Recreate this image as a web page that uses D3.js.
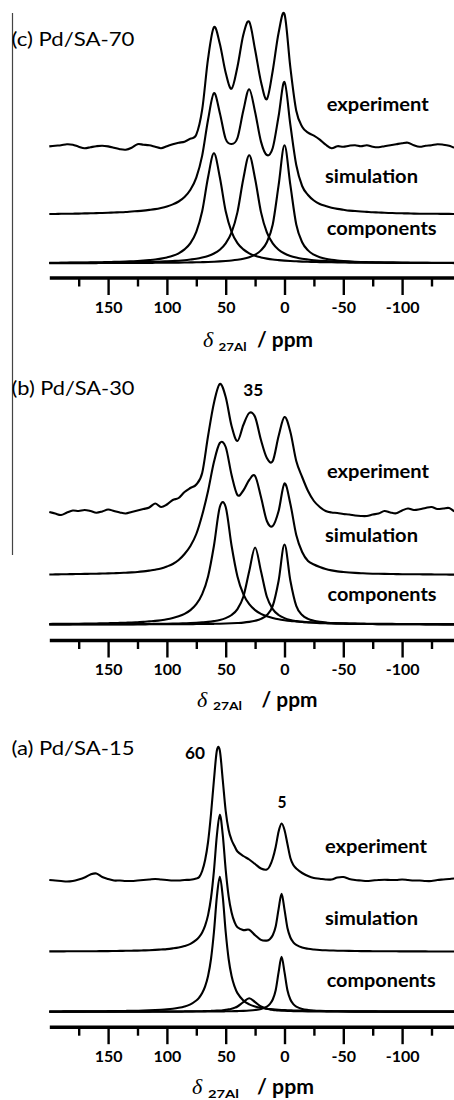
<!DOCTYPE html>
<html><head><meta charset="utf-8">
<script src="https://cdn.jsdelivr.net/npm/d3@7"></script>
<style>body{margin:0;background:#fff}svg{display:block}</style>
</head><body>
<svg id="chart" width="454" height="1100"></svg>
<script>
// ---------- data ----------
const ppmGrid = [200,195,190,185,180,175,170,165,160,155,150,145,140,135,130,125,120,115,110,105,100,95,90,85,80,75,70,65,60,55,50,45,40,35,30,25,20,15,10,5,0,-5,-10,-15,-20,-25,-30,-35,-40,-45,-50,-55,-60,-65,-70,-75,-80,-85,-90,-95,-100,-105,-110,-115,-120,-125,-130,-135,-140,-145,-150];
const ppmGridA = [200,195,190,185,180,175,170,165,160,155,150,145,140,135,130,125,120,115,110,105,100,95,90,85,80,75,
  72.5,70,67.5,65,62.5,60,57.5,55,52.5,50,47.5,45,42.5,40,
  35,30,25,20,15,
  12.5,10,7.5,5,2.5,0,-2.5,-5,-7.5,-10,
  -15,-20,-25,-30,-35,-40,-45,-50,-55,-60,-65,-70,-75,-80,-85,-90,-95,-100,-105,-110,-115,-120,-125,-130,-135,-140,-145,-150];

// (c) Pd/SA-70
const cExperiment = [0.3,1.0,1.5,2.5,2.0,0.0,-1.5,-0.5,0.5,1.0,0.3,-1.0,-2.5,-3.0,-1.0,2.5,2.0,1.5,0.0,-1.5,0.5,2.5,4.0,5.0,8.0,12,37,88,119.5,103,74,58,80,112,125,97,65,47.5,76,114,132.5,79,36,20,14,11,7,2,-1.5,0.5,0,1.0,1.5,0.5,1.5,0,-0.5,0.5,1.5,2.5,3.5,4.0,1.5,0,1.0,1.5,2.5,2.0,1.0,-1.0,0.5];
const cSimulation = [1.0,1.0,1.2,1.2,1.3,1.4,1.6,1.7,1.9,2.0,2.2,2.5,2.7,3.0,3.5,3.9,4.4,5.1,5.9,7.1,8.6,10.6,13.5,18.0,25.2,37.4,59.4,95.3,121.9,102.1,76.0,71.0,77.0,104.4,125.8,103.1,73.4,60.0,67.0,99.0,133.0,90.0,50.0,29.0,20.0,14.5,11.0,9.0,7.3,6.1,5.2,4.4,4.0,3.5,3.1,2.7,2.5,2.2,2.0,1.8,1.7,1.6,1.4,1.3,1.3,1.2,1.2,1.1,1.1,1.0,0.9];
const cComponent60 = [0.5,0.5,0.6,0.6,0.7,0.7,0.8,0.9,1.0,1.1,1.2,1.4,1.5,1.7,2.0,2.3,2.7,3.2,3.8,4.7,5.9,7.5,10.0,13.9,20.2,31.5,52.1,86.1,110,86.1,52.1,31.5,20.2,13.9,10.0,7.5,5.9,4.7,3.8,3.2,2.7,2.3,2.0,1.7,1.5,1.4,1.2,1.1,1.0,0.9,0.8,0.7,0.7,0.6,0.6,0.5,0.5,0.5,0.4,0.4,0.4,0.4,0.3,0.3,0.3,0.3,0.3,0.3,0.3,0.2,0.2];
const cComponent30 = [0.3,0.3,0.4,0.4,0.4,0.5,0.5,0.5,0.6,0.6,0.7,0.7,0.8,0.9,1.0,1.1,1.2,1.3,1.5,1.7,2.0,2.3,2.6,3.1,3.8,4.6,5.8,7.4,9.8,13.6,19.9,30.9,51.2,84.6,108,84.6,51.2,30.9,19.9,13.6,9.8,7.4,5.8,4.6,3.8,3.1,2.6,2.3,2.0,1.7,1.5,1.3,1.2,1.1,1.0,0.9,0.8,0.7,0.7,0.6,0.6,0.55,0.5,0.5,0.5,0.45,0.4,0.4,0.4,0.4,0.35];
const cComponent0 = [0.14,0.14,0.15,0.16,0.17,0.18,0.2,0.21,0.22,0.24,0.26,0.27,0.29,0.32,0.34,0.37,0.40,0.44,0.48,0.52,0.58,0.64,0.71,0.8,0.9,1.0,1.17,1.35,1.6,1.9,2.3,2.8,3.5,4.5,6.1,8.6,12.9,21.1,38.8,78.1,118,78.1,38.8,21.1,12.9,8.6,6.1,4.5,3.5,2.8,2.3,1.9,1.6,1.35,1.17,1.0,0.9,0.8,0.71,0.64,0.58,0.52,0.48,0.44,0.40,0.37,0.34,0.32,0.29,0.27,0.26];

// (b) Pd/SA-30
const bExperiment = [1.0,-0.5,-2.0,0.5,2.5,2.0,3.0,2.0,0.3,1.5,3.5,2.0,0.5,-0.5,1.0,2.5,4.0,5.5,9.5,6.0,8.5,13,15,21,25,28.5,40,77,110,129,116,87,72,88,100,96,73,55,52,77,96,81,52,36,22,12,6,2,0.5,0,-1,-1.5,-2.5,-3,-3,-1.5,-0.5,2.0,0.5,-0.3,2.5,4.5,3.0,3.7,5.0,6.0,4.0,4.5,5.0,1.5,1.0];
const bSimulation = [0.5,0.6,0.7,0.8,0.9,1.0,1.1,1.2,1.3,1.5,1.6,1.8,2.0,2.3,2.6,3.0,3.6,4.4,5.3,6.5,8.5,11,15,21,29,41,60,84,113,132,128,100,80,84.5,95,99,78,54,49,64,91.5,71,40,23,14,10.5,8,6,4.6,3.6,3.0,2.5,2.1,1.8,1.5,1.3,1.2,1.1,1.0,0.9,0.8,0.8,0.7,0.7,0.6,0.6,0.5,0.5,0.4,0.4,0.3];
const bComponent53 = [0.56,0.60,0.65,0.70,0.75,0.81,0.88,0.96,1.05,1.2,1.3,1.4,1.6,1.8,2.0,2.3,2.6,3.1,3.6,4.3,5.2,6.5,8.2,10.6,14.4,20.3,30.3,48.0,78.7,117.5,117.5,78.7,48.0,30.3,20.3,14.4,10.6,8.2,6.5,5.2,4.3,3.6,3.1,2.6,2.3,2.0,1.8,1.6,1.4,1.3,1.2,1.05,0.96,0.88,0.81,0.75,0.70,0.65,0.60,0.56,0.53,0.49,0.46,0.44,0.41,0.39,0.37,0.35,0.33,0.31,0.30];
const bComponent25 = [0.14,0.15,0.16,0.17,0.18,0.19,0.21,0.22,0.24,0.26,0.28,0.30,0.33,0.36,0.39,0.43,0.48,0.53,0.60,0.67,0.76,0.87,1.0,1.2,1.4,1.7,2.1,2.6,3.4,4.5,6.4,9.5,15.4,27.7,53.3,77,53.3,27.7,15.4,9.5,6.4,4.5,3.4,2.6,2.1,1.7,1.4,1.2,1.0,0.87,0.76,0.67,0.60,0.53,0.48,0.43,0.39,0.36,0.33,0.30,0.28,0.26,0.24,0.22,0.21,0.19,0.18,0.17,0.16,0.15,0.14];
const bComponent0 = [0.06,0.06,0.07,0.07,0.08,0.08,0.09,0.09,0.1,0.1,0.11,0.11,0.12,0.13,0.14,0.15,0.17,0.18,0.20,0.22,0.24,0.27,0.30,0.33,0.38,0.43,0.49,0.57,0.67,0.79,0.96,1.2,1.5,1.9,2.6,3.7,5.6,9.5,18.6,43.8,80,43.8,18.6,9.5,5.6,3.7,2.6,1.9,1.5,1.2,0.96,0.79,0.67,0.57,0.49,0.43,0.38,0.33,0.30,0.27,0.24,0.22,0.20,0.18,0.17,0.15,0.14,0.13,0.12,0.11,0.11];

// (a) Pd/SA-15
const aExperiment = [0,-0.5,-1.0,-1.5,-1.0,0.5,2.5,5.5,6.5,3.0,1.0,-0.5,-0.5,-1.0,-1.0,-0.5,0,0.5,1.0,0.5,0,-0.5,-0.5,0,0.3,1.5,
  3.0,9,20,38,66,100,129.5,129.5,100,69,50,40,34,28.5,
  24,20.5,16,11.5,10.5,
  14,21.5,33,48.5,56.5,50,36,22,15,11.5,
  7,4,2,1.3,0.5,0.5,2.5,3.0,1.0,0,-0.5,-1.0,-0.5,0,0.3,0,0,0.5,0,-0.5,-0.5,-1.0,-1.0,0,0.5,1.0,1.5,1.0];
const aSimulation = [0.3,0.3,0.3,0.4,0.4,0.4,0.4,0.5,0.5,0.6,0.6,0.7,0.8,0.9,1.0,1.1,1.3,1.5,1.8,2.2,2.6,3.3,4.2,5.6,7.8,11.8,
  14.8,19.3,26.1,36.6,53.7,80.8,116.3,137,116.8,81.9,55.4,39.2,29.7,24.4,
  21.6,21.9,16.5,11.8,11.1,
  12.5,16.4,25.1,42.8,57.8,42.1,23.7,14.2,9.4,6.8,
  4.1,2.9,2.2,1.7,1.4,1.2,1.0,0.9,0.8,0.7,0.6,0.6,0.5,0.5,0.4,0.4,0.4,0.3,0.3,0.3,0.3,0.3,0.2,0.2,0.2,0.2,0.2,0.2];
const aComponent55 = [0.23,0.25,0.27,0.29,0.31,0.34,0.37,0.40,0.44,0.48,0.54,0.60,0.67,0.76,0.86,0.99,1.14,1.34,1.59,1.92,2.36,2.97,3.86,5.2,7.35,11.2,
  14.2,18.6,25.3,35.7,52.7,79.7,115,135,115,79.7,52.7,35.7,25.3,18.6,
  11.2,7.35,5.2,3.86,2.97,
  2.64,2.36,2.12,1.92,1.74,1.59,1.45,1.34,1.23,1.14,
  0.99,0.86,0.76,0.67,0.60,0.54,0.48,0.44,0.40,0.37,0.34,0.31,0.29,0.27,0.25,0.23,0.22,0.20,0.19,0.18,0.17,0.16,0.15,0.14,0.13,0.125,0.12,0.115];
const aComponent2 = [0.022,0.024,0.025,0.026,0.028,0.03,0.032,0.033,0.036,0.038,0.04,0.043,0.046,0.05,0.054,0.058,0.06,0.07,0.075,0.08,0.09,0.10,0.11,0.13,0.15,0.17,
  0.18,0.19,0.21,0.22,0.24,0.26,0.29,0.32,0.35,0.39,0.43,0.48,0.54,0.62,
  0.82,1.14,1.69,2.74,5.1,
  7.6,12.2,21.5,39.6,55,39.6,21.5,12.2,7.6,5.1,
  2.74,1.69,1.14,0.82,0.62,0.48,0.39,0.32,0.26,0.22,0.19,0.17,0.15,0.13,0.11,0.10,0.09,0.08,0.075,0.07,0.06,0.058,0.054,0.05,0.046,0.043,0.04,0.038];
const aComponent30 = [0.030,0.031,0.033,0.036,0.038,0.041,0.044,0.047,0.051,0.055,0.059,0.065,0.07,0.077,0.085,0.094,0.105,0.118,0.133,0.15,0.173,0.2,0.234,0.28,0.335,0.41,
  0.46,0.52,0.58,0.67,0.77,0.89,1.05,1.24,1.5,1.85,2.3,3.0,3.9,5.2,
  9.6,13.4,9.6,5.2,3.0,
  2.3,1.85,1.5,1.24,1.05,0.89,0.77,0.67,0.58,0.52,
  0.41,0.335,0.28,0.234,0.2,0.173,0.15,0.133,0.118,0.105,0.094,0.085,0.077,0.07,0.065,0.059,0.055,0.051,0.047,0.044,0.041,0.038,0.036,0.033,0.031,0.030,0.028,0.027];

const majorTicks = [150,100,50,0,-50,-100];
const minorTicks = [175,125,75,25,-25,-75,-125];
const seriesNames = ["experiment","simulation","components"];
const panelTitles = ["(c) Pd/SA-70","(b) Pd/SA-30","(a) Pd/SA-15"];
const peakNotes = [[],["35"],["60","5"]];

// ---------- layout ----------
const FONT = "Lato, 'Open Sans', 'DejaVu Sans', sans-serif";
const svg = d3.select("#chart");
const x = d3.scaleLinear().domain([200,-150]).range([49.3,460.9]);
const yInt = d3.scaleLinear().domain([0,100]).range([0,-100]);

const panels = [
  {ppm: ppmGrid, exp: cExperiment, sim: cSimulation, comps:[cComponent60,cComponent30,cComponent0],
   axisY:277.5, base:[146.7,215,263.3], titleY:46,
   lab:[[326.7,110.7,102],[325,183.3,93],[326.7,235.3,110]],
   ax:{d:[203,346.5], s:[218.5,350.5,28], p:[257,346.7,56]}, notes:[]},
  {ppm: ppmGrid, exp: bExperiment, sim: bSimulation, comps:[bComponent53,bComponent25,bComponent0],
   axisY:640, base:[513,575,624.5], titleY:394.5,
   lab:[[327,478.3,102],[325,541.7,93],[327.5,600.7,109]],
   ax:{d:[197,706.5], s:[213,710,29], p:[261.5,706.7,56]}, notes:[[243.3,396,20]]},
  {ppm: ppmGridA, exp: aExperiment, sim: aSimulation, comps:[aComponent55,aComponent2,aComponent30],
   axisY:1026.7, base:[880,951.7,1011.7], titleY:755,
   lab:[[325,852.7,102],[325,925,93],[326.7,986.7,109]],
   ax:{d:[192,1094], s:[208,1097.5,31], p:[257,1093.5,57]}, notes:[[185,759.3,20],[277.5,807.7,9]]}
];

// left frame line
svg.append("line").attr("x1",12.5).attr("x2",12.5).attr("y1",13).attr("y2",555)
  .attr("stroke","#444").attr("stroke-width",1.2);

panels.forEach((p,pi)=>{
  const g = svg.append("g");
  const mk = vals => d3.line().x((d,i)=>x(p.ppm[i])).y(d=>yInt(d)).curve(d3.curveCardinal.tension(0))(vals);
  const traces = [[p.exp,p.base[0]],[p.sim,p.base[1]]].concat(p.comps.map(c=>[c,p.base[2]]));
  traces.forEach(([vals,b])=>{
    g.append("path").attr("transform",`translate(0,${b})`).attr("d",mk(vals))
      .attr("fill","none").attr("stroke","#000").attr("stroke-width",2.1).attr("stroke-linejoin","round");
  });

  // axis
  const ga = g.append("g").attr("transform",`translate(0,${p.axisY})`)
    .call(d3.axisBottom(x).tickValues(majorTicks).tickSize(17.5).tickSizeOuter(0).tickPadding(6.5).tickFormat(d=>String(d)));
  ga.select(".domain").attr("stroke","#000").attr("stroke-width",3.5);
  ga.selectAll(".tick line").attr("stroke","#000").attr("stroke-width",2.4);
  ga.selectAll(".tick text").attr("fill","#000").style("font-family",FONT).style("font-weight","bold").style("font-size","16px");
  const gm = g.append("g").attr("transform",`translate(0,${p.axisY})`)
    .call(d3.axisBottom(x).tickValues(minorTicks).tickSize(9).tickSizeOuter(0).tickFormat(""));
  gm.select(".domain").remove();
  gm.selectAll(".tick line").attr("stroke","#000").attr("stroke-width",2.4);

  // panel title
  g.append("text").attr("x",11.5).attr("y",p.titleY).text(panelTitles[pi])
    .attr("textLength",123).attr("lengthAdjust","spacingAndGlyphs")
    .style("font-family",FONT).style("font-size","19px").attr("fill","#000");

  // series labels
  seriesNames.forEach((n,i)=>{
    const [lx,ly,lw] = p.lab[i];
    g.append("text").attr("x",lx).attr("y",ly).text(n)
      .attr("textLength",lw).attr("lengthAdjust","spacingAndGlyphs")
      .style("font-family",FONT).style("font-weight","bold").style("font-size","18px").attr("fill","#000");
  });

  // peak notes
  peakNotes[pi].forEach((t,i)=>{
    const [nx,ny,nw] = p.notes[i];
    g.append("text").attr("x",nx).attr("y",ny).text(t)
      .attr("textLength",nw).attr("lengthAdjust","spacingAndGlyphs")
      .style("font-family",FONT).style("font-weight","bold").style("font-size","17.5px").attr("fill","#000");
  });

  // axis title
  g.append("text").attr("x",p.ax.d[0]).attr("y",p.ax.d[1]).text("δ")
    .style("font-family","'Liberation Serif','DejaVu Serif',serif").style("font-style","italic").style("font-size","22px").attr("fill","#000");
  g.append("text").attr("x",p.ax.s[0]).attr("y",p.ax.s[1]).text("27Al")
    .attr("textLength",p.ax.s[2]).attr("lengthAdjust","spacingAndGlyphs")
    .style("font-family",FONT).style("font-weight","bold").style("font-size","12px").attr("fill","#000");
  g.append("text").attr("x",p.ax.p[0]).attr("y",p.ax.p[1]).text("/ ppm")
    .attr("textLength",p.ax.p[2]).attr("lengthAdjust","spacingAndGlyphs")
    .style("font-family",FONT).style("font-weight","bold").style("font-size","20px").attr("fill","#000");
});
</script>
</body></html>
